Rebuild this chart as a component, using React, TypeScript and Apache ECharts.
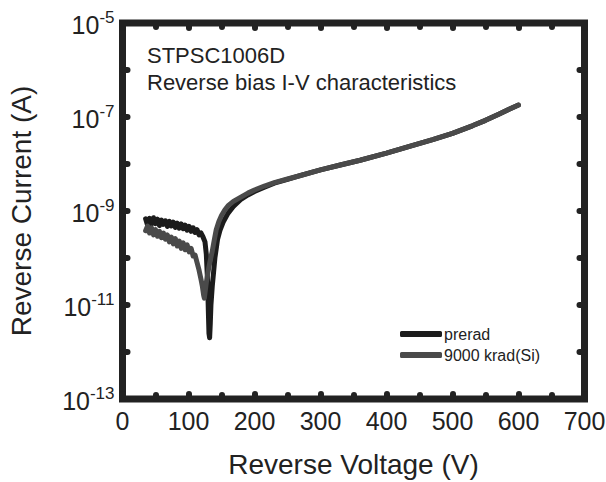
import React, { useEffect, useRef } from "react";
import * as echarts from "echarts";

const FONT = "'Liberation Sans', Arial, Helvetica, sans-serif";

// x-axis tick values (V)
const xTicks = [0, 100, 200, 300, 400, 500, 600, 700];
// y-axis decade range (exponents)
const yExpMin = -13;
const yExpMax = -5;

const seriesNames = ["prerad", "9000 krad(Si)"];

// prerad (black)
const preradV = [
  35, 38, 41, 44, 47, 50, 53, 56, 59, 62, 65, 68, 71, 74, 77, 80, 83, 86, 89, 92, 95, 98, 101, 104, 107,
  110, 113, 116, 119, 122, 125, 127, 129, 130, 131, 132, 133, 134, 136, 138, 140, 144, 148, 153, 160, 168,
  180, 190, 200, 215, 230, 250, 270, 300, 330, 360, 400, 440, 470, 500, 530, 550, 570, 585, 600,
];
const preradI = [
  6.8e-10, 5.0e-10, 7.0e-10, 5.3e-10, 7.2e-10, 5.4e-10, 6.7e-10, 4.9e-10, 6.4e-10, 5.2e-10, 6.2e-10,
  4.7e-10, 6.0e-10, 4.8e-10, 5.8e-10, 4.5e-10, 5.5e-10, 4.3e-10, 5.3e-10, 4.2e-10, 5.0e-10, 3.9e-10,
  4.7e-10, 3.7e-10, 4.4e-10, 3.5e-10, 4.0e-10, 3.1e-10, 3.4e-10, 2.8e-10, 2.2e-10, 1.2e-10, 3e-11,
  8e-12, 2.5e-12, 2e-12, 4e-12, 1e-11, 2.5e-11, 5e-11, 1e-10, 2.5e-10, 4e-10, 6e-10, 9e-10, 1.25e-9,
  1.8e-9, 2.2e-9, 2.6e-9, 3.2e-9, 3.9e-9, 4.7e-9, 5.7e-9, 7.5e-9, 9.5e-9, 1.2e-8, 1.7e-8, 2.5e-8,
  3.3e-8, 4.5e-8, 6.5e-8, 8.5e-8, 1.15e-7, 1.45e-7, 1.8e-7,
];

// 9000 krad(Si) (gray)
const kradV = [
  35, 38, 41, 44, 47, 50, 53, 56, 59, 62, 65, 68, 71, 74, 77, 80, 83, 86, 89, 92, 95, 98, 101, 104, 107,
  110, 113, 116, 119, 121, 123, 124, 125, 127, 129, 131, 133, 136, 139, 142, 146, 150, 155, 160, 168, 180,
  190, 200, 215, 230, 250, 270, 300, 330, 360, 400, 440, 470, 500, 530, 550, 570, 585, 600,
];
const kradI = [
  3.8e-10, 4.8e-10, 3.4e-10, 4.4e-10, 3.1e-10, 4.0e-10, 2.9e-10, 3.7e-10, 2.7e-10, 3.4e-10, 2.5e-10,
  3.1e-10, 2.2e-10, 2.8e-10, 2.0e-10, 2.6e-10, 1.8e-10, 2.3e-10, 1.6e-10, 2.1e-10, 1.5e-10, 1.9e-10,
  1.35e-10, 1.6e-10, 1.1e-10, 1.15e-10, 8e-11, 5.5e-11, 3.5e-11, 2.5e-11, 1.6e-11, 1.4e-11, 1.8e-11,
  3e-11, 4.5e-11, 6.5e-11, 9e-11, 1.4e-10, 2.4e-10, 4e-10, 6e-10, 8e-10, 1.05e-9, 1.3e-9, 1.6e-9, 2.0e-9,
  2.4e-9, 2.8e-9, 3.4e-9, 4.0e-9, 4.8e-9, 5.7e-9, 7.5e-9, 9.5e-9, 1.2e-8, 1.7e-8, 2.5e-8, 3.3e-8,
  4.5e-8, 6.5e-8, 8.5e-8, 1.15e-7, 1.45e-7, 1.8e-7,
];

const annotationLines = ["STPSC1006D", "Reverse bias I-V characteristics"];

export default function App() {
  const ref = useRef<HTMLDivElement>(null);

  useEffect(() => {
    document.body.style.margin = "0";
    if (!ref.current) return;
    const chart = echarts.init(ref.current, undefined, { renderer: "svg" });

    const tickStyle = { width: 6, color: "#222", cap: "round" as const };
    const xBase = {
      type: "value" as const,
      min: xTicks[0],
      max: xTicks[xTicks.length - 1],
      interval: 100,
      axisLine: { show: false, onZero: false },
      splitLine: { show: false },
      axisTick: { show: true, inside: true, length: 5, lineStyle: tickStyle },
      minorTick: { show: true, splitNumber: 2, length: 4, lineStyle: tickStyle },
    };
    const yBase = {
      type: "log" as const,
      logBase: 10,
      min: Math.pow(10, yExpMin),
      max: Math.pow(10, yExpMax),
      interval: 1,
      axisLine: { show: false, onZero: false },
      splitLine: { show: false },
      minorTick: { show: false },
      axisTick: { show: true, inside: true, length: 5, lineStyle: tickStyle },
    };

    chart.setOption({
      animation: false,
      backgroundColor: "#fff",
      grid: {
        show: true,
        borderWidth: 7,
        borderColor: "#222",
        left: 122.5,
        right: 21.5,
        top: 23,
        bottom: 83,
        containLabel: false,
        outerBoundsMode: "none",
      },
      xAxis: [
        {
          ...xBase,
          position: "bottom",
          name: "Reverse Voltage (V)",
          nameLocation: "middle",
          nameGap: 51,
          nameTextStyle: { fontFamily: FONT, fontSize: 28, color: "#222" },
          axisLabel: { margin: 9, fontFamily: FONT, fontSize: 25, color: "#222" },
        },
        {
          ...xBase,
          position: "top",
          axisLabel: { show: false },
        },
      ],
      yAxis: [
        {
          ...yBase,
          position: "left",
          name: "Reverse Current (A)",
          nameLocation: "middle",
          nameRotate: 90,
          nameGap: 87,
          nameTextStyle: { fontFamily: FONT, fontSize: 28, color: "#222" },
          axisLabel: {
            margin: 8,
            formatter: (v: number) => {
              const e = Math.round(Math.log10(v));
              if (Math.abs(e) % 2 !== 1) return "";
              return `{b|10}{s|${e}}`;
            },
            rich: {
              b: { fontFamily: FONT, fontSize: 25, color: "#222", lineHeight: 29, verticalAlign: "bottom" },
              s: { fontFamily: FONT, fontSize: 17, color: "#222", lineHeight: 17, verticalAlign: "top" },
            },
          },
        },
        {
          ...yBase,
          position: "right",
          axisLabel: { show: false },
        },
      ],
      legend: {
        orient: "vertical",
        left: 400,
        top: 326,
        icon: "roundRect",
        itemWidth: 42,
        itemHeight: 6,
        itemGap: 5,
        padding: 0,
        textStyle: { fontFamily: FONT, fontSize: 16, color: "#222", padding: [0, 0, 0, -3] },
        data: seriesNames,
      },
      graphic: annotationLines.map((t, i) => ({
        type: "text",
        left: 147,
        top: 44 + i * 27,
        style: { text: t, fontFamily: FONT, fontSize: 22, fill: "#222" },
      })),
      series: [
        {
          name: seriesNames[0],
          type: "line",
          xAxisIndex: 0,
          yAxisIndex: 0,
          showSymbol: false,
          symbol: "none",
          color: "#1c1c1c",
          lineStyle: { width: 5, color: "#1c1c1c", join: "round", cap: "round" },
          data: preradV.map((v, i) => [v, preradI[i]]),
        },
        {
          name: seriesNames[1],
          type: "line",
          xAxisIndex: 0,
          yAxisIndex: 0,
          showSymbol: false,
          symbol: "none",
          color: "#4a4a4a",
          lineStyle: { width: 5, color: "#4a4a4a", join: "round", cap: "round" },
          data: kradV.map((v, i) => [v, kradI[i]]),
        },
      ],
    });

    return () => chart.dispose();
  }, []);

  return <div ref={ref} style={{ width: 606, height: 482 }} />;
}
